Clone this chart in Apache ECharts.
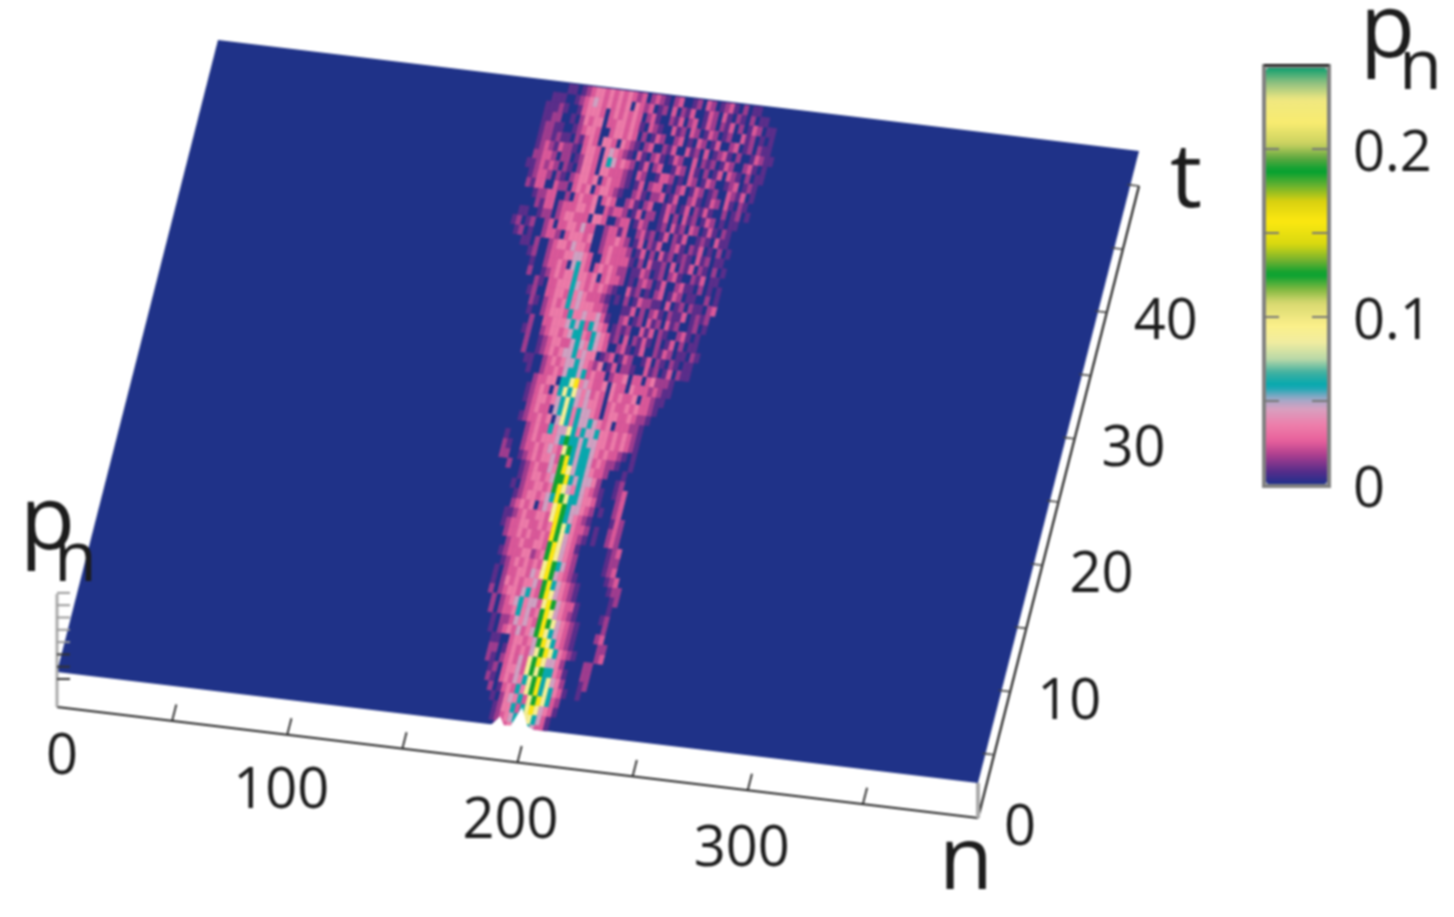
<!DOCTYPE html>
<html><head><meta charset="utf-8"><style>html,body{margin:0;padding:0;background:#fff}#c{width:1454px;height:917px}#c canvas{filter:blur(0.8px)}</style>
<script src="https://cdn.jsdelivr.net/npm/echarts@6/dist/echarts.min.js"></script></head>
<body><div id="c"></div><script>
// Values
const nTicks=[0,50,100,150,200,250,300,350,400];
const nLabels=[0,100,200,300];
const tTicks=[0,5,10,15,20,25,30,35,40,45,50];
const tLabels=[0,10,20,30,40];
const zTicks=[0,1,2,3,4,5,6,7];
const cbLabels=[0,0.1,0.2];
const cbTicks=[0.05,0.1,0.15,0.2];
const notchN=[186,189,191.5,194,197,199.7,204,210];
const notchT=[-0.3,0.05,0.7,0.05,0.1,1.6,0.2,-0.3];
const levelP=[0,0.008,0.016,0.024,0.034,0.046,0.06,0.09,0.126,0.158];
const tStep=0.75, nStep=2;
const rowStartN=[190,188,188,186,184,182,182,180,180,180,178,178,176,176,174,174,174,174,174,174,174,172,172,172,172,170,170,168,164,164,164,166,168,168,168,168,168,166,164,162,162,160,160,160,160,158,158,156,156,154,150,146,144,146,146,148,146,146,144,144,144,146,146,146,146,146,154];
const rowCells=[
"133455665331",
"1234565776531",
"12446367975431",
"1024546378976320",
"20134364789676431001",
"2103435467896754200012",
"1203445378786643100022",
"21023435378975542000022",
"2201343435789764321000023",
"1100344345897643210000022",
"1023435345897654321000023",
"1022354543898754321000002",
"20233464534897543210000012",
"20234564553798543310000001",
"2023443564389754321000000012",
"1024343445389654321000000122",
"1023344354798543210000001230",
"0123434343798653200000012300",
"1233344234897543200000012200",
"0233433443897543100000012300",
"233434334398754321010023200",
"123344334349876433201002320",
"1123433443798654321000013200",
"0234340354798655432010023000",
"0123443456987665443100023000",
"01023344348975465432100123000",
"00123443458896565542000120000",
"2001234335489756654332000100",
"220012343445389656653432210010",
"210023343454378656654343321010",
"1000234344456866565544343432100",
"00023433645576465564434343210",
"12334340576465565434033322100",
"02343305676465543034433432210",
"1234434567654544303433434332100",
"12343046767545343043433403321100",
"02334406679454334043304333232110",
"10023343566563433023340330342221",
"110023434556543240130221003120130211",
"2001234345564544012301320013021021011",
"20012344335654654300231013002132011021",
"120023443456643654312030213102013020110",
"020033444565636543012120031302100231010",
"100234443644544531002301203120312001201",
"2102343464544433200011302023102113012120",
"12003344364543332101020132211030120211023",
"02103344465434343210031201023013201100201",
"200123434464434034332010232013002311020101",
"100233430564303434322011320120231002130110",
"1200233344554300343333102031120302130210201",
"110200234435443002343332013020312012103120110",
"12010023320344434002334320130213002310213010201",
"120120023033443533002331300231201302130012103110",
"11001220234433304430023301320012031203201310210",
"000213302333443400323320130220130203120132010110",
"012233002034334034300231023001320130213100201201",
"2133003220343403443210023102230130023101320310210",
"12332021023443403433210130233010230132012003213010",
"112323202102443044333210320013320103201320012301210",
"0223320220124430465343201302300132031020130321020110",
"0123213221034430454321031023101320030212013200231010",
"1221211021343044304321023002130031203012310200132110",
"1221100123443003443430201320023010320130023012021100",
"112200102434403344343103210031203201320120031201010",
"111210013444303434343023100213023013202130201320110",
"01110012345434343404323012030213001320310210201100",
"11012344343434323023210230012032012310201100"];

const cbStops=[[0,'#20308c'],[.008,'#5a2d8a'],[.018,'#b0408f'],[.026,'#e8609c'],[.036,'#ee80ac'],[.045,'#d8a0c0'],[.051,'#a0a8c8'],[.059,'#00a8b0'],[.067,'#40b0a0'],[.075,'#b8d8a8'],[.085,'#f0eca0'],[.095,'#fbf08a'],[.109,'#d8d870'],[.117,'#80b840'],[.126,'#00a030'],[.134,'#70b030'],[.144,'#d8d810'],[.158,'#fce810'],[.17,'#d8d010'],[.18,'#60b030'],[.188,'#00a030'],[.196,'#60a840'],[.204,'#c8d060'],[.217,'#f8ec70'],[.231,'#f0e880'],[.241,'#90c080'],[.25,'#10a070']];
function hex(c){return [1,3,5].map(i=>parseInt(c.substr(i,2),16));}
const cbColors=[];
for(let i=0;i<=100;i++){const p=i*0.0025;let j=0;while(j<cbStops.length-2&&cbStops[j+1][0]<p)j++;
  const a=cbStops[j],b=cbStops[j+1],f=Math.min(1,(p-a[0])/(b[0]-a[0])),A=hex(a[1]),B=hex(b[1]);
  cbColors.push('rgb('+A.map((v,m)=>Math.round(v+(B[m]-v)*f)).join(',')+')');}

const heat=[];
rowCells.forEach((s,k)=>{for(let i=0;i<s.length;i++){const l=+s[i];if(l>0)heat.push([rowStartN[k]+i*nStep,k*tStep,levelP[l]]);}});

// shear of the grid's own n/t scale into the drawn perspective
const L=57,B=707,W=921,H=632,LIFT=35;
function proj(api,n,t,lift){const c=api.coord([n,t]);return [c[0]+(B-c[1])*161/H,c[1]+(c[0]-L)*111/W-(lift||0)];}
const ink='#1c1c1c', FONT='"Open Sans","Noto Sans",sans-serif';

const option={animation:false,backgroundColor:'#fff',
 grid:{left:L,top:B-H,width:W,height:H},
 xAxis:{type:'value',min:0,max:400,show:false},
 yAxis:{type:'value',min:0,max:50,show:false},
 visualMap:{type:'continuous',min:0,max:0.25,dimension:2,seriesIndex:1,calculable:false,hoverLink:false,left:1266,top:68,itemWidth:61,itemHeight:416,padding:0,inRange:{color:cbColors},textStyle:{fontSize:0},text:null},
 graphic:{elements:[
  {type:'rect',shape:{x:1264,y:66,width:65,height:420},style:{fill:'none',stroke:'#808080',lineWidth:4},z:50},
  {type:'line',shape:{x1:1264,y1:65,x2:1329,y2:65},style:{stroke:'#111',lineWidth:2},z:51},
  ...cbTicks.flatMap(v=>{const y=485-v*1680;return [
   {type:'line',shape:{x1:1264,y1:y,x2:1279,y2:y},style:{stroke:'#777',lineWidth:2},z:51},
   {type:'line',shape:{x1:1312,y1:y,x2:1328,y2:y},style:{stroke:'#777',lineWidth:2},z:51}];}),
  ...cbLabels.map(v=>({type:'text',left:1353,top:485-v*1680-22,z:52,style:{text:String(v),fontFamily:FONT,fontSize:56,fill:ink}})),
  {type:'text',left:1360,top:-14,style:{text:'p',fontFamily:FONT,fontSize:90,fill:ink},z:52},
  {type:'text',left:1399,top:34,style:{text:'n',fontFamily:FONT,fontSize:70,fill:ink},z:52},
  {type:'text',left:20,top:478,style:{text:'p',fontFamily:FONT,fontSize:90,fill:ink},z:52},
  {type:'text',left:54,top:526,style:{text:'n',fontFamily:FONT,fontSize:70,fill:ink},z:52},
  {type:'text',left:1170,top:136,style:{text:'t',fontFamily:FONT,fontSize:90,fill:ink},z:52},
  {type:'text',left:939,top:820,style:{text:'n',fontFamily:FONT,fontSize:88,fill:ink},z:52}
 ]},
 series:[
 {type:'custom',coordinateSystem:'cartesian2d',silent:true,z:2,data:[[0,0,0]],encode:{x:0,y:1},renderItem(p,api){
   const pts=[[0,0],[400,0],[400,50],[0,50]].map(q=>proj(api,q[0],q[1],LIFT));
   return {type:'polygon',shape:{points:pts},style:{fill:'#1f3288'}};}},
 {type:'custom',coordinateSystem:'cartesian2d',silent:true,z:3,data:heat,encode:{x:0,y:1},renderItem(p,api){
   const n=api.value(0),t=api.value(1),c=api.visual('color');
   const hn=nStep/2,ht=tStep/2;
   const pts=[[n-hn,t-ht],[n+hn,t-ht],[n+hn,t+ht],[n-hn,t+ht]].map(q=>proj(api,q[0],Math.max(q[1],0),LIFT));
   return {type:'polygon',shape:{points:pts},style:{fill:c,stroke:c,lineWidth:0.6}};}},
 {type:'custom',coordinateSystem:'cartesian2d',silent:true,z:4,data:[[200,0,0]],encode:{x:0,y:1},renderItem(p,api){
   const pts=notchN.map((n,i)=>proj(api,n,notchT[i],LIFT));
   return {type:'polygon',shape:{points:pts},style:{fill:'#fff'}};}},
 {type:'custom',coordinateSystem:'cartesian2d',silent:true,z:5,data:[[0,0,0]],encode:{x:0,y:1},renderItem(p,api){
   const seg=(a,b,w,col)=>({type:'line',shape:{x1:a[0],y1:a[1],x2:b[0],y2:b[1]},style:{stroke:col||'#222',lineWidth:w||2}});
   const els=[];
   const o=proj(api,0,0),e=proj(api,400,0),m=proj(api,400,50);
   els.push(seg(o,e,2.2),seg(e,m,2.2));
   els.push(seg(o,proj(api,0,0,35),2,'#666'));
   els.push(seg(e,proj(api,400,0,35),4,'#aaa'));
   els.push(seg([o[0],o[1]],[o[0],o[1]-113],3,'#aaa'));
   zTicks.forEach(z=>{const y=o[1]-28-z*12.3;els.push(seg([o[0],y],[o[0]+13,y],2,z<3?'#333':'#999'));});
   nTicks.forEach(n=>{if(n>0&&n<400)els.push(seg(proj(api,n,0),proj(api,n,1.3),1.8));});
   tTicks.forEach(t=>{if(t>0)els.push(seg(proj(api,400,t),proj(api,395,t),1.6,'#444'));});
   const nOff={0:[5,51],100:[-6,57],200:[-7,60],300:[-6,60]};
   nLabels.forEach(n=>{const q=proj(api,n,0);els.push({type:'text',x:q[0]+nOff[n][0],y:q[1]+nOff[n][1],style:{text:String(n),font:'56px '+FONT,fill:ink,align:'center',verticalAlign:'middle'}});});
   tLabels.forEach(t=>{const q=proj(api,400,t);const dx=t===0?42:59;els.push({type:'text',x:q[0]+dx,y:q[1]+11,style:{text:String(t),font:'56px '+FONT,fill:ink,align:'center',verticalAlign:'middle'}});});
   return {type:'group',children:els};}}
 ]};
echarts.init(document.getElementById('c'),null,{renderer:'canvas'}).setOption(option);
</script></body></html>
